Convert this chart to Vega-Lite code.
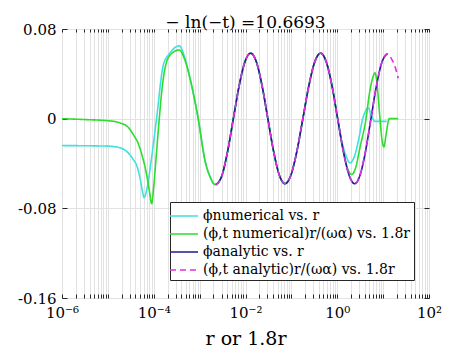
{
  "$schema": "https://vega.github.io/schema/vega-lite/v6.json",
  "autosize": {"type": "none"},
  "padding": {"left": 62, "top": 29, "right": 45, "bottom": 57},
  "width": 367,
  "height": 269,
  "title": {"text": "− ln(−t) =10.6693", "font": "DejaVu Serif", "fontSize": 17, "fontWeight": "normal", "color": "black", "offset": -10},
  "config": {
    "view": {"stroke": "#262626", "strokeWidth": 1},
    "font": "DejaVu Serif"
  },
  "data": {"values": [
    {"r": 0.000001, "phi": -0.024, "series": "ϕnumerical vs. r"},
    {"r": 0.00001, "phi": -0.0245, "series": "ϕnumerical vs. r"},
    {"r": 0.0000184, "phi": -0.026, "series": "ϕnumerical vs. r"},
    {"r": 0.0000358, "phi": -0.0364, "series": "ϕnumerical vs. r"},
    {"r": 0.0000427, "phi": -0.042, "series": "ϕnumerical vs. r"},
    {"r": 0.00005, "phi": -0.0527, "series": "ϕnumerical vs. r"},
    {"r": 0.0000562, "phi": -0.064, "series": "ϕnumerical vs. r"},
    {"r": 0.0000617, "phi": -0.0705, "series": "ϕnumerical vs. r"},
    {"r": 0.000068, "phi": -0.066, "series": "ϕnumerical vs. r"},
    {"r": 0.0000759, "phi": -0.0557, "series": "ϕnumerical vs. r"},
    {"r": 0.000093, "phi": -0.03, "series": "ϕnumerical vs. r"},
    {"r": 0.000115, "phi": 0, "series": "ϕnumerical vs. r"},
    {"r": 0.000162, "phi": 0.048, "series": "ϕnumerical vs. r"},
    {"r": 0.00022, "phi": 0.058, "series": "ϕnumerical vs. r"},
    {"r": 0.00036, "phi": 0.065, "series": "ϕnumerical vs. r"},
    {"r": 0.00047, "phi": 0.055, "series": "ϕnumerical vs. r"},
    {"r": 0.000617, "phi": 0.036, "series": "ϕnumerical vs. r"},
    {"r": 0.00093, "phi": 0, "series": "ϕnumerical vs. r"},
    {"r": 0.00132, "phi": -0.038, "series": "ϕnumerical vs. r"},
    {"r": 0.0017, "phi": -0.052, "series": "ϕnumerical vs. r"},
    {"r": 0.00216, "phi": -0.0587, "series": "ϕnumerical vs. r"},
    {"r": 0.00304, "phi": -0.0511, "series": "ϕnumerical vs. r"},
    {"r": 0.00406, "phi": -0.0295, "series": "ϕnumerical vs. r"},
    {"r": 0.00543, "phi": 0, "series": "ϕnumerical vs. r"},
    {"r": 0.00726, "phi": 0.0292, "series": "ϕnumerical vs. r"},
    {"r": 0.0097, "phi": 0.0506, "series": "ϕnumerical vs. r"},
    {"r": 0.013, "phi": 0.0584, "series": "ϕnumerical vs. r"},
    {"r": 0.0173, "phi": 0.0505, "series": "ϕnumerical vs. r"},
    {"r": 0.023, "phi": 0.0292, "series": "ϕnumerical vs. r"},
    {"r": 0.0307, "phi": 0, "series": "ϕnumerical vs. r"},
    {"r": 0.0409, "phi": -0.029, "series": "ϕnumerical vs. r"},
    {"r": 0.0545, "phi": -0.0502, "series": "ϕnumerical vs. r"},
    {"r": 0.0726, "phi": -0.058, "series": "ϕnumerical vs. r"},
    {"r": 0.0979, "phi": -0.0502, "series": "ϕnumerical vs. r"},
    {"r": 0.132, "phi": -0.029, "series": "ϕnumerical vs. r"},
    {"r": 0.178, "phi": 0, "series": "ϕnumerical vs. r"},
    {"r": 0.24, "phi": 0.0292, "series": "ϕnumerical vs. r"},
    {"r": 0.323, "phi": 0.0506, "series": "ϕnumerical vs. r"},
    {"r": 0.436, "phi": 0.0584, "series": "ϕnumerical vs. r"},
    {"r": 0.578, "phi": 0.0505, "series": "ϕnumerical vs. r"},
    {"r": 0.769, "phi": 0.0292, "series": "ϕnumerical vs. r"},
    {"r": 1.021, "phi": 0, "series": "ϕnumerical vs. r"},
    {"r": 1.259, "phi": -0.02, "series": "ϕnumerical vs. r"},
    {"r": 1.55, "phi": -0.033, "series": "ϕnumerical vs. r"},
    {"r": 1.897, "phi": -0.0394, "series": "ϕnumerical vs. r"},
    {"r": 2.344, "phi": -0.034, "series": "ϕnumerical vs. r"},
    {"r": 2.884, "phi": -0.02, "series": "ϕnumerical vs. r"},
    {"r": 3.59, "phi": 0, "series": "ϕnumerical vs. r"},
    {"r": 4.17, "phi": 0.007, "series": "ϕnumerical vs. r"},
    {"r": 4.75, "phi": 0.0095, "series": "ϕnumerical vs. r"},
    {"r": 5.5, "phi": 0.003, "series": "ϕnumerical vs. r"},
    {"r": 6.65, "phi": -0.0024, "series": "ϕnumerical vs. r"},
    {"r": 11.97, "phi": -0.0024, "series": "ϕnumerical vs. r"},

    {"r": 0.000001, "phi": 0, "series": "(ϕ,t numerical)r/(ωα) vs. 1.8r"},
    {"r": 0.00000316, "phi": -0.0008, "series": "(ϕ,t numerical)r/(ωα) vs. 1.8r"},
    {"r": 0.00001, "phi": -0.0018, "series": "(ϕ,t numerical)r/(ωα) vs. 1.8r"},
    {"r": 0.0000184, "phi": -0.0038, "series": "(ϕ,t numerical)r/(ωα) vs. 1.8r"},
    {"r": 0.0000282, "phi": -0.008, "series": "(ϕ,t numerical)r/(ωα) vs. 1.8r"},
    {"r": 0.0000358, "phi": -0.0142, "series": "(ϕ,t numerical)r/(ωα) vs. 1.8r"},
    {"r": 0.0000457, "phi": -0.022, "series": "(ϕ,t numerical)r/(ωα) vs. 1.8r"},
    {"r": 0.000055, "phi": -0.032, "series": "(ϕ,t numerical)r/(ωα) vs. 1.8r"},
    {"r": 0.00007, "phi": -0.05, "series": "(ϕ,t numerical)r/(ωα) vs. 1.8r"},
    {"r": 0.00008, "phi": -0.064, "series": "(ϕ,t numerical)r/(ωα) vs. 1.8r"},
    {"r": 0.0000902, "phi": -0.0758, "series": "(ϕ,t numerical)r/(ωα) vs. 1.8r"},
    {"r": 0.0001, "phi": -0.06, "series": "(ϕ,t numerical)r/(ωα) vs. 1.8r"},
    {"r": 0.000115, "phi": -0.03, "series": "(ϕ,t numerical)r/(ωα) vs. 1.8r"},
    {"r": 0.000132, "phi": 0, "series": "(ϕ,t numerical)r/(ωα) vs. 1.8r"},
    {"r": 0.00015, "phi": 0.025, "series": "(ϕ,t numerical)r/(ωα) vs. 1.8r"},
    {"r": 0.000176, "phi": 0.045, "series": "(ϕ,t numerical)r/(ωα) vs. 1.8r"},
    {"r": 0.00023, "phi": 0.057, "series": "(ϕ,t numerical)r/(ωα) vs. 1.8r"},
    {"r": 0.00036, "phi": 0.0613, "series": "(ϕ,t numerical)r/(ωα) vs. 1.8r"},
    {"r": 0.00047, "phi": 0.053, "series": "(ϕ,t numerical)r/(ωα) vs. 1.8r"},
    {"r": 0.000617, "phi": 0.036, "series": "(ϕ,t numerical)r/(ωα) vs. 1.8r"},
    {"r": 0.00093, "phi": 0, "series": "(ϕ,t numerical)r/(ωα) vs. 1.8r"},
    {"r": 0.00132, "phi": -0.038, "series": "(ϕ,t numerical)r/(ωα) vs. 1.8r"},
    {"r": 0.0017, "phi": -0.052, "series": "(ϕ,t numerical)r/(ωα) vs. 1.8r"},
    {"r": 0.00216, "phi": -0.0587, "series": "(ϕ,t numerical)r/(ωα) vs. 1.8r"},
    {"r": 0.00304, "phi": -0.0511, "series": "(ϕ,t numerical)r/(ωα) vs. 1.8r"},
    {"r": 0.00406, "phi": -0.0295, "series": "(ϕ,t numerical)r/(ωα) vs. 1.8r"},
    {"r": 0.00543, "phi": 0, "series": "(ϕ,t numerical)r/(ωα) vs. 1.8r"},
    {"r": 0.00726, "phi": 0.0292, "series": "(ϕ,t numerical)r/(ωα) vs. 1.8r"},
    {"r": 0.0097, "phi": 0.0506, "series": "(ϕ,t numerical)r/(ωα) vs. 1.8r"},
    {"r": 0.013, "phi": 0.0584, "series": "(ϕ,t numerical)r/(ωα) vs. 1.8r"},
    {"r": 0.0173, "phi": 0.0505, "series": "(ϕ,t numerical)r/(ωα) vs. 1.8r"},
    {"r": 0.023, "phi": 0.0292, "series": "(ϕ,t numerical)r/(ωα) vs. 1.8r"},
    {"r": 0.0307, "phi": 0, "series": "(ϕ,t numerical)r/(ωα) vs. 1.8r"},
    {"r": 0.0409, "phi": -0.029, "series": "(ϕ,t numerical)r/(ωα) vs. 1.8r"},
    {"r": 0.0545, "phi": -0.0502, "series": "(ϕ,t numerical)r/(ωα) vs. 1.8r"},
    {"r": 0.0726, "phi": -0.058, "series": "(ϕ,t numerical)r/(ωα) vs. 1.8r"},
    {"r": 0.0979, "phi": -0.0502, "series": "(ϕ,t numerical)r/(ωα) vs. 1.8r"},
    {"r": 0.132, "phi": -0.029, "series": "(ϕ,t numerical)r/(ωα) vs. 1.8r"},
    {"r": 0.178, "phi": 0, "series": "(ϕ,t numerical)r/(ωα) vs. 1.8r"},
    {"r": 0.24, "phi": 0.0292, "series": "(ϕ,t numerical)r/(ωα) vs. 1.8r"},
    {"r": 0.323, "phi": 0.0506, "series": "(ϕ,t numerical)r/(ωα) vs. 1.8r"},
    {"r": 0.436, "phi": 0.0584, "series": "(ϕ,t numerical)r/(ωα) vs. 1.8r"},
    {"r": 0.578, "phi": 0.0505, "series": "(ϕ,t numerical)r/(ωα) vs. 1.8r"},
    {"r": 0.769, "phi": 0.0292, "series": "(ϕ,t numerical)r/(ωα) vs. 1.8r"},
    {"r": 1.021, "phi": 0, "series": "(ϕ,t numerical)r/(ωα) vs. 1.8r"},
    {"r": 1.318, "phi": -0.027, "series": "(ϕ,t numerical)r/(ωα) vs. 1.8r"},
    {"r": 1.66, "phi": -0.044, "series": "(ϕ,t numerical)r/(ωα) vs. 1.8r"},
    {"r": 2.065, "phi": -0.0498, "series": "(ϕ,t numerical)r/(ωα) vs. 1.8r"},
    {"r": 2.51, "phi": -0.044, "series": "(ϕ,t numerical)r/(ωα) vs. 1.8r"},
    {"r": 3.16, "phi": -0.025, "series": "(ϕ,t numerical)r/(ωα) vs. 1.8r"},
    {"r": 4.24, "phi": 0, "series": "(ϕ,t numerical)r/(ωα) vs. 1.8r"},
    {"r": 5.01, "phi": 0.022, "series": "(ϕ,t numerical)r/(ωα) vs. 1.8r"},
    {"r": 5.89, "phi": 0.036, "series": "(ϕ,t numerical)r/(ωα) vs. 1.8r"},
    {"r": 6.65, "phi": 0.041, "series": "(ϕ,t numerical)r/(ωα) vs. 1.8r"},
    {"r": 7.24, "phi": 0.034, "series": "(ϕ,t numerical)r/(ωα) vs. 1.8r"},
    {"r": 7.94, "phi": 0.016, "series": "(ϕ,t numerical)r/(ωα) vs. 1.8r"},
    {"r": 8.55, "phi": 0, "series": "(ϕ,t numerical)r/(ωα) vs. 1.8r"},
    {"r": 9.55, "phi": -0.02, "series": "(ϕ,t numerical)r/(ωα) vs. 1.8r"},
    {"r": 10.45, "phi": -0.0252, "series": "(ϕ,t numerical)r/(ωα) vs. 1.8r"},
    {"r": 11.5, "phi": -0.015, "series": "(ϕ,t numerical)r/(ωα) vs. 1.8r"},
    {"r": 13.65, "phi": 0, "series": "(ϕ,t numerical)r/(ωα) vs. 1.8r"},
    {"r": 21.38, "phi": 0, "series": "(ϕ,t numerical)r/(ωα) vs. 1.8r"},

    {"r": 0.00228, "phi": -0.059, "series": "ϕanalytic vs. r"},
    {"r": 0.00304, "phi": -0.0511, "series": "ϕanalytic vs. r"},
    {"r": 0.00406, "phi": -0.0295, "series": "ϕanalytic vs. r"},
    {"r": 0.00543, "phi": 0, "series": "ϕanalytic vs. r"},
    {"r": 0.00726, "phi": 0.0292, "series": "ϕanalytic vs. r"},
    {"r": 0.0097, "phi": 0.0506, "series": "ϕanalytic vs. r"},
    {"r": 0.013, "phi": 0.0584, "series": "ϕanalytic vs. r"},
    {"r": 0.0173, "phi": 0.0505, "series": "ϕanalytic vs. r"},
    {"r": 0.023, "phi": 0.0292, "series": "ϕanalytic vs. r"},
    {"r": 0.0307, "phi": 0, "series": "ϕanalytic vs. r"},
    {"r": 0.0409, "phi": -0.029, "series": "ϕanalytic vs. r"},
    {"r": 0.0545, "phi": -0.0502, "series": "ϕanalytic vs. r"},
    {"r": 0.0726, "phi": -0.058, "series": "ϕanalytic vs. r"},
    {"r": 0.0979, "phi": -0.0502, "series": "ϕanalytic vs. r"},
    {"r": 0.132, "phi": -0.029, "series": "ϕanalytic vs. r"},
    {"r": 0.178, "phi": 0, "series": "ϕanalytic vs. r"},
    {"r": 0.24, "phi": 0.0292, "series": "ϕanalytic vs. r"},
    {"r": 0.323, "phi": 0.0506, "series": "ϕanalytic vs. r"},
    {"r": 0.436, "phi": 0.0584, "series": "ϕanalytic vs. r"},
    {"r": 0.578, "phi": 0.0505, "series": "ϕanalytic vs. r"},
    {"r": 0.769, "phi": 0.0292, "series": "ϕanalytic vs. r"},
    {"r": 1.021, "phi": 0, "series": "ϕanalytic vs. r"},
    {"r": 1.358, "phi": -0.029, "series": "ϕanalytic vs. r"},
    {"r": 1.803, "phi": -0.0502, "series": "ϕanalytic vs. r"},
    {"r": 2.399, "phi": -0.058, "series": "ϕanalytic vs. r"},
    {"r": 3.148, "phi": -0.0502, "series": "ϕanalytic vs. r"},
    {"r": 4.14, "phi": -0.029, "series": "ϕanalytic vs. r"},
    {"r": 5.43, "phi": 0, "series": "ϕanalytic vs. r"},
    {"r": 7.13, "phi": 0.029, "series": "ϕanalytic vs. r"},
    {"r": 9.38, "phi": 0.0502, "series": "ϕanalytic vs. r"},
    {"r": 12.3, "phi": 0.0578, "series": "ϕanalytic vs. r"},

    {"r": 0.00228, "phi": -0.059, "series": "(ϕ,t analytic)r/(ωα) vs. 1.8r"},
    {"r": 0.00304, "phi": -0.0511, "series": "(ϕ,t analytic)r/(ωα) vs. 1.8r"},
    {"r": 0.00406, "phi": -0.0295, "series": "(ϕ,t analytic)r/(ωα) vs. 1.8r"},
    {"r": 0.00543, "phi": 0, "series": "(ϕ,t analytic)r/(ωα) vs. 1.8r"},
    {"r": 0.00726, "phi": 0.0292, "series": "(ϕ,t analytic)r/(ωα) vs. 1.8r"},
    {"r": 0.0097, "phi": 0.0506, "series": "(ϕ,t analytic)r/(ωα) vs. 1.8r"},
    {"r": 0.013, "phi": 0.0584, "series": "(ϕ,t analytic)r/(ωα) vs. 1.8r"},
    {"r": 0.0173, "phi": 0.0505, "series": "(ϕ,t analytic)r/(ωα) vs. 1.8r"},
    {"r": 0.023, "phi": 0.0292, "series": "(ϕ,t analytic)r/(ωα) vs. 1.8r"},
    {"r": 0.0307, "phi": 0, "series": "(ϕ,t analytic)r/(ωα) vs. 1.8r"},
    {"r": 0.0409, "phi": -0.029, "series": "(ϕ,t analytic)r/(ωα) vs. 1.8r"},
    {"r": 0.0545, "phi": -0.0502, "series": "(ϕ,t analytic)r/(ωα) vs. 1.8r"},
    {"r": 0.0726, "phi": -0.058, "series": "(ϕ,t analytic)r/(ωα) vs. 1.8r"},
    {"r": 0.0979, "phi": -0.0502, "series": "(ϕ,t analytic)r/(ωα) vs. 1.8r"},
    {"r": 0.132, "phi": -0.029, "series": "(ϕ,t analytic)r/(ωα) vs. 1.8r"},
    {"r": 0.178, "phi": 0, "series": "(ϕ,t analytic)r/(ωα) vs. 1.8r"},
    {"r": 0.24, "phi": 0.0292, "series": "(ϕ,t analytic)r/(ωα) vs. 1.8r"},
    {"r": 0.323, "phi": 0.0506, "series": "(ϕ,t analytic)r/(ωα) vs. 1.8r"},
    {"r": 0.436, "phi": 0.0584, "series": "(ϕ,t analytic)r/(ωα) vs. 1.8r"},
    {"r": 0.578, "phi": 0.0505, "series": "(ϕ,t analytic)r/(ωα) vs. 1.8r"},
    {"r": 0.769, "phi": 0.0292, "series": "(ϕ,t analytic)r/(ωα) vs. 1.8r"},
    {"r": 1.021, "phi": 0, "series": "(ϕ,t analytic)r/(ωα) vs. 1.8r"},
    {"r": 1.358, "phi": -0.029, "series": "(ϕ,t analytic)r/(ωα) vs. 1.8r"},
    {"r": 1.803, "phi": -0.0502, "series": "(ϕ,t analytic)r/(ωα) vs. 1.8r"},
    {"r": 2.399, "phi": -0.058, "series": "(ϕ,t analytic)r/(ωα) vs. 1.8r"},
    {"r": 3.148, "phi": -0.0502, "series": "(ϕ,t analytic)r/(ωα) vs. 1.8r"},
    {"r": 4.14, "phi": -0.029, "series": "(ϕ,t analytic)r/(ωα) vs. 1.8r"},
    {"r": 5.43, "phi": 0, "series": "(ϕ,t analytic)r/(ωα) vs. 1.8r"},
    {"r": 7.13, "phi": 0.029, "series": "(ϕ,t analytic)r/(ωα) vs. 1.8r"},
    {"r": 9.38, "phi": 0.0502, "series": "(ϕ,t analytic)r/(ωα) vs. 1.8r"},
    {"r": 12.3, "phi": 0.0578, "series": "(ϕ,t analytic)r/(ωα) vs. 1.8r"},
    {"r": 15.85, "phi": 0.052, "series": "(ϕ,t analytic)r/(ωα) vs. 1.8r"},
    {"r": 18.62, "phi": 0.045, "series": "(ϕ,t analytic)r/(ωα) vs. 1.8r"},
    {"r": 21.38, "phi": 0.036, "series": "(ϕ,t analytic)r/(ωα) vs. 1.8r"}
  ]},
  "layer": [
    {
      "mark": {"type": "line", "strokeWidth": 1.6, "interpolate": "monotone", "clip": true},
      "encoding": {
        "x": {"field": "r", "type": "quantitative",
          "scale": {"type": "log", "domain": [0.000001, 100], "nice": false},
          "axis": {"orient": "bottom",
            "values": [1e-6,2e-6,3e-6,4e-6,5e-6,6e-6,7e-6,8e-6,9e-6,1e-5,2e-5,3e-5,4e-5,5e-5,6e-5,7e-5,8e-5,9e-5,1e-4,2e-4,3e-4,4e-4,5e-4,6e-4,7e-4,8e-4,9e-4,1e-3,2e-3,3e-3,4e-3,5e-3,6e-3,7e-3,8e-3,9e-3,1e-2,2e-2,3e-2,4e-2,5e-2,6e-2,7e-2,8e-2,9e-2,0.1,0.2,0.3,0.4,0.5,0.6,0.7,0.8,0.9,1,2,3,4,5,6,7,8,9,10,20,30,40,50,60,70,80,90,100],
            "labelExpr": "datum.value == 1e-6 ? '10⁻⁶' : datum.value == 1e-4 ? '10⁻⁴' : datum.value == 0.01 ? '10⁻²' : datum.value == 1 ? '10⁰' : datum.value == 100 ? '10²' : ''",
            "grid": true, "gridColor": "#e2e2e2", "gridWidth": 1,
            "tickSize": -4, "tickColor": "#262626", "domain": false,
            "labelFont": "DejaVu Serif", "labelFontSize": 15, "labelColor": "black",
            "labelPadding": 11, "labelOverlap": false, "labelFlush": false,
            "title": "r or 1.8r", "titleFont": "DejaVu Serif", "titleFontSize": 19,
            "titleFontWeight": "normal", "titleColor": "black", "titlePadding": 9}},
        "y": {"field": "phi", "type": "quantitative",
          "scale": {"domain": [-0.16, 0.08], "nice": false, "zero": false},
          "axis": {"orient": "left", "values": [-0.16, -0.08, 0, 0.08],
            "labelExpr": "datum.value == 0 ? '0' : replace(format(datum.value, '.2f'), '−', '-')",
            "grid": true, "gridColor": "#e2e2e2",
            "tickSize": -5, "tickColor": "#262626", "domain": false,
            "labelFont": "DejaVu Serif", "labelFontSize": 15, "labelColor": "black",
            "labelPadding": 11, "title": null}},
        "color": {"field": "series", "type": "nominal",
          "scale": {"domain": ["ϕnumerical vs. r", "(ϕ,t numerical)r/(ωα) vs. 1.8r", "ϕanalytic vs. r", "(ϕ,t analytic)r/(ωα) vs. 1.8r"],
                    "range": ["#40e0e0", "#2edc2e", "#1c1c8e", "#e22ee2"]},
          "legend": {"orient": "none", "legendX": 108, "legendY": 173, "title": null,
            "fillColor": "white", "strokeColor": "#262626", "padding": 3,
            "symbolType": "M-1.4,0H1.4", "symbolSize": 400, "symbolStrokeWidth": 1.6,
            "labelFont": "DejaVu Serif", "labelFontSize": 14, "labelColor": "black",
            "labelLimit": 300, "rowPadding": 0, "labelOffset": 8}},
        "strokeDash": {"field": "series", "type": "nominal",
          "scale": {"domain": ["ϕnumerical vs. r", "(ϕ,t numerical)r/(ωα) vs. 1.8r", "ϕanalytic vs. r", "(ϕ,t analytic)r/(ωα) vs. 1.8r"],
                    "range": [[1, 0], [1, 0], [1, 0], [6, 4]]},
          "legend": {"orient": "none", "legendX": 108, "legendY": 173, "title": null}}
      }
    },
    {
      "mark": {"type": "line", "opacity": 0},
      "encoding": {
        "x": {"field": "r", "type": "quantitative",
          "axis": {"orient": "top",
            "values": [1e-6,2e-6,3e-6,4e-6,5e-6,6e-6,7e-6,8e-6,9e-6,1e-5,2e-5,3e-5,4e-5,5e-5,6e-5,7e-5,8e-5,9e-5,1e-4,2e-4,3e-4,4e-4,5e-4,6e-4,7e-4,8e-4,9e-4,1e-3,2e-3,3e-3,4e-3,5e-3,6e-3,7e-3,8e-3,9e-3,1e-2,2e-2,3e-2,4e-2,5e-2,6e-2,7e-2,8e-2,9e-2,0.1,0.2,0.3,0.4,0.5,0.6,0.7,0.8,0.9,1,2,3,4,5,6,7,8,9,10,20,30,40,50,60,70,80,90,100],
            "labels": false, "grid": false, "tickSize": -3, "tickColor": "#262626", "domain": false, "title": null,
            "minExtent": 0, "maxExtent": 0}},
        "y": {"field": "phi", "type": "quantitative",
          "axis": {"orient": "right", "values": [-0.16, -0.08, 0, 0.08],
            "labels": false, "grid": false, "tickSize": -5, "tickColor": "#262626", "domain": false, "title": null,
            "minExtent": 0, "maxExtent": 0}}
      }
    }
  ],
  "resolve": {"axis": {"x": "independent", "y": "independent"}}
}
